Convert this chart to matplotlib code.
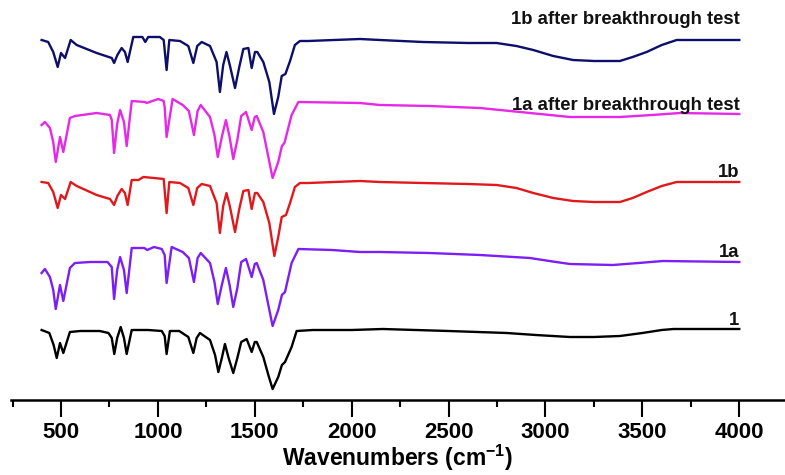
import matplotlib
matplotlib.use("Agg")
import matplotlib.pyplot as plt
from matplotlib.ticker import MultipleLocator

plt.rcParams['font.family'] = ['Liberation Sans', 'DejaVu Sans']
plt.rcParams['font.weight'] = 'bold'
plt.rcParams['mathtext.fontset'] = 'custom'
plt.rcParams['mathtext.rm'] = 'Liberation Sans:bold'
plt.rcParams['mathtext.bf'] = 'Liberation Sans:bold'
plt.rcParams['mathtext.default'] = 'bf'

# IR spectra: wavenumber (cm-1) and relative transmittance (a.u.)
wn_1 = [400, 440, 462, 478, 495, 512, 546, 600, 700, 745, 762, 775, 790, 808, 825, 839,
        865, 950, 1020, 1035, 1045, 1062, 1110, 1157, 1183, 1200, 1217, 1269, 1295,
        1312, 1330, 1346, 1365, 1389, 1410, 1430, 1458, 1484, 1500, 1510, 1544, 1570,
        1592, 1621, 1640, 1656, 1690, 1716, 1800, 2000, 2160, 2500, 2800, 2950, 3126,
        3250, 3384, 3500, 3600, 3660, 4000]
t_1 = [0, -3, -15, -28, -13, -23, -2, -1, -1, -3, -8, -24, -8, 3, -8, -24,
       0, 0, -1, -6, -24, -1, -1, -7, -23, -8, -3, -10, -25,
       -42, -28, -14, -28, -43, -28, -12, -9, -22, -12, -12, -27, -45,
       -59, -47, -35, -32, -17, -1, 0, 0, 1, -1, -3, -5, -7,
       -7, -6, -3, 0, 1, 1]

wn_1a = [400, 417, 443, 460, 473, 495, 512, 546, 572, 650, 740, 762, 774, 790, 805, 825,
         839, 865, 930, 945, 980, 1020, 1035, 1045, 1071, 1128, 1160, 1186, 1205, 1221,
         1269, 1292, 1309, 1330, 1351, 1370, 1389, 1410, 1430, 1455, 1484, 1500, 1510,
         1544, 1570, 1592, 1621, 1640, 1656, 1690, 1725, 1900, 2043, 2146, 2400, 2662,
         2920, 3020, 3126, 3348, 3480, 3606, 4000]
t_1a = [-23, -19, -27, -40, -59, -35, -51, -18, -13, -12, -12, -17, -49, -20, -7, -20,
        -43, 2, 2, 0, 3, 1, -5, -33, 3, -2, -8, -32, -8, -3,
        -13, -32, -54, -35, -18, -35, -57, -38, -12, -9, -27, -14, -13,
        -30, -55, -76, -60, -45, -42, -13, 1, 0, -2, -2, -3, -5,
        -8, -11, -14, -15, -13, -11, -12]

wn_1b = [400, 434, 460, 483, 500, 521, 550, 581, 684, 753, 774, 791, 813, 830, 844, 865,
         900, 925, 980, 1030, 1045, 1059, 1114, 1157, 1183, 1203, 1226, 1269, 1303,
         1320, 1337, 1354, 1371, 1398, 1420, 1441, 1467, 1484, 1501, 1513, 1544, 1575,
         1601, 1621, 1639, 1661, 1682, 1707, 1733, 1775, 2043, 2146, 2368, 2600, 2748,
         2850, 2937, 3040, 3142, 3250, 3384, 3450, 3522, 3600, 3677, 3800, 4000]
t_1b = [-1, -2, -11, -27, -14, -18, -1, -5, -14, -18, -24, -15, -8, -12, -24, 1,
        1, 4, 3, 2, -32, -1, -2, -7, -24, -7, -3, -5, -22,
        -52, -25, -12, -25, -51, -28, -10, -9, -28, -12, -12, -21, -42,
        -75, -56, -36, -34, -22, -6, -2, -2, 0, -1, -2, -3, -4,
        -7, -12, -17, -20, -21, -21, -17, -11, -5, -1, -1, -1]

wn_1a_after = [400, 417, 443, 460, 473, 495, 512, 546, 572, 684, 753, 762, 774, 790, 805,
               825, 839, 865, 934, 942, 1002, 1030, 1035, 1045, 1076, 1128, 1160, 1186,
               1205, 1221, 1269, 1292, 1309, 1330, 1351, 1370, 1389, 1410, 1430, 1455,
               1484, 1500, 1510, 1544, 1570, 1592, 1621, 1640, 1653, 1690, 1725, 2043,
               2146, 2400, 2662, 2920, 3126, 3384, 3550, 3694, 4000]
t_1a_after = [-23, -20, -26, -40, -60, -35, -50, -16, -14, -11, -13, -18, -51, -22, -8,
              -20, -44, 1, 0, -1, 3, 1, -5, -35, 3, -3, -9, -33,
              -9, -3, -15, -33, -55, -35, -18, -35, -57, -38, -14, -10,
              -28, -15, -14, -30, -55, -76, -60, -44, -41, -13, 0, -1,
              -3, -4, -6, -11, -15, -15, -13, -11, -12]

wn_1b_after = [400, 434, 460, 483, 500, 521, 550, 581, 684, 762, 774, 791, 813, 830, 844,
               873, 920, 935, 950, 1010, 1030, 1045, 1059, 1114, 1157, 1183, 1203, 1226,
               1269, 1303, 1320, 1337, 1354, 1371, 1398, 1420, 1441, 1467, 1484, 1501,
               1513, 1544, 1575, 1599, 1621, 1639, 1658, 1682, 1707, 1733, 1775, 2043,
               2146, 2368, 2600, 2748, 2850, 2937, 3040, 3142, 3250, 3384, 3450, 3522,
               3600, 3677, 4000]
t_1b_after = [0, -2, -12, -27, -13, -18, 0, -5, -13, -18, -23, -15, -8, -12, -22,
              3, 3, -2, 3, 3, 0, -30, 0, -1, -6, -23, -6, -2,
              -6, -22, -52, -25, -12, -25, -48, -27, -9, -8, -28, -12,
              -12, -22, -42, -74, -57, -36, -34, -21, -5, -1, -1, 1,
              0, -2, -3, -3, -6, -10, -16, -20, -21, -21, -17, -12,
              -5, 0, 0]

labels = ['1', '1a', '1b', '1a after breakthrough test', '1b after breakthrough test']
offsets = [70, 150, 219, 298, 360]
colors = ['#000000', '#7B1FF5', '#E0191C', '#E629E6', '#0D0F6B']
label_gap = [4, 5, 5, 4, 16]

spectra = [(wn_1, t_1), (wn_1a, t_1a), (wn_1b, t_1b),
           (wn_1a_after, t_1a_after), (wn_1b_after, t_1b_after)]

fig = plt.figure(figsize=(7.85, 4.75), dpi=100)
ax = fig.add_axes([0.014, 75 / 475, 0.986, 400 / 475])

for (wn, t), off, c, lab, gap in zip(spectra, offsets, colors, labels, label_gap):
    y = [v + off for v in t]
    ax.plot(wn, y, color=c, lw=1.7, solid_joinstyle='round')
    ax.text(4000, y[-1] + gap, lab, ha='right', va='baseline',
            fontsize=13.3, fontweight='bold', color='#111111')

ax.set_xlim(242, 4236)
ax.set_ylim(0, 400)
ax.xaxis.set_major_locator(MultipleLocator(500))
ax.xaxis.set_minor_locator(MultipleLocator(500, offset=250))
ax.tick_params(axis='x', which='major', direction='out', length=12, width=1.5,
               labelsize=16, pad=4)
ax.tick_params(axis='x', which='minor', direction='out', length=5, width=1.5)
for lbl in ax.get_xticklabels():
    lbl.set_fontweight('bold')
ax.set_yticks([])
for side in ['top', 'right', 'left']:
    ax.spines[side].set_visible(False)
ax.spines['bottom'].set_linewidth(1.8)
ax.set_xlabel('Wavenumbers (cm$^{-1}$)', fontsize=16.5, fontweight='bold', labelpad=0)

fig.savefig('out.png', dpi=100)
